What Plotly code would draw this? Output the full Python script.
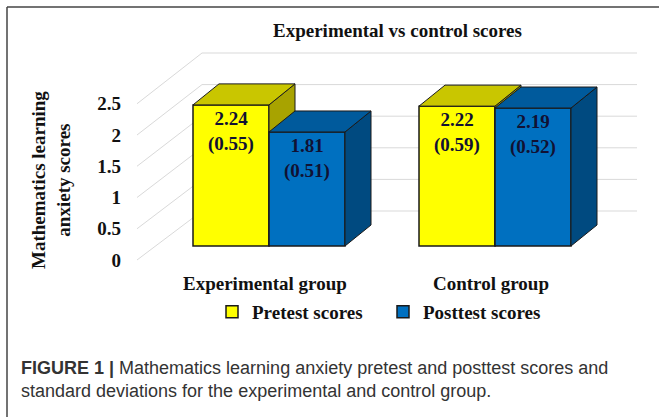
import plotly.graph_objects as go

# ---------------- data ----------------
groups = ["Experimental group", "Control group"]
series_names = ["Pretest scores", "Posttest scores"]
pretest = [2.24, 2.22]
posttest = [1.81, 2.19]
pretest_sd = [0.55, 0.59]
posttest_sd = [0.51, 0.52]
tick_vals = [0, 0.5, 1, 1.5, 2, 2.5]
tick_text = ["0", "0.5", "1", "1.5", "2", "2.5"]

# ---------------- style / layout constants ----------------
W, H = 659, 417
PX_PER_GROUP = 226.0          # pixel distance between group centres
X0_PX = 269.0                 # pixel of first group centre
V0_PX = 246.0                 # pixel of value 0 in bar plane
PX_PER_VAL = 63.0
BAR_W = 76.0 / PX_PER_GROUP   # bar width in group units
DX = 26.0 / PX_PER_GROUP      # 3-D depth offset (x)
DV = 21.0 / PX_PER_VAL        # 3-D depth offset (value)

SERIF = "Liberation Serif"
SANS = "Liberation Sans"
FRONT = ["#FFFF00", "#0070C0"]
TOP = ["#C9C600", "#005A9C"]
SIDE = ["#A8A300", "#004A80"]
EDGE = "#1a1a1a"
GRID = "#d9d9d9"
TXT = "#111111"


def xu(px):
    return (px - X0_PX) / PX_PER_GROUP


def front_edge_m(v):   # left wall front edge, in bar-plane values
    return (V0_PX - 260.0 + 62.5 * v) / PX_PER_VAL


def back_m(v):         # back wall, in bar-plane values
    return (V0_PX - 211.0 + 63.2 * v) / PX_PER_VAL


WALL_FRONT_X = xu(137)
WALL_BACK_X = xu(202)
WALL_END_X = xu(637)

fig = go.Figure()

# gridlines on the left wall and back wall
gx, gy = [], []
for v in tick_vals:
    gx += [WALL_FRONT_X, WALL_BACK_X, WALL_END_X, None]
    gy += [front_edge_m(v), back_m(v), back_m(v), None]
fig.add_trace(go.Scatter(x=gx, y=gy, mode="lines", line=dict(color=GRID, width=1),
                         hoverinfo="skip", showlegend=False, zorder=0))

series = [(pretest, pretest_sd), (posttest, posttest_sd)]
for s, (vals, sds) in enumerate(series):
    z = s + 1
    offs = -BAR_W / 2 if s == 0 else BAR_W / 2
    xs = [g + offs for g in range(len(groups))]
    # side faces and top faces
    for xc, v in zip(xs, vals):
        xl, xr = xc - BAR_W / 2, xc + BAR_W / 2
        fig.add_trace(go.Scatter(
            x=[xr, xr, xr + DX, xr + DX, xr], y=[0, v, v + DV, DV, 0],
            mode="lines", fill="toself", fillcolor=SIDE[s],
            line=dict(color=EDGE, width=1), hoverinfo="skip", showlegend=False, zorder=z))
        fig.add_trace(go.Scatter(
            x=[xl, xr, xr + DX, xl + DX, xl], y=[v, v, v + DV, v + DV, v],
            mode="lines", fill="toself", fillcolor=TOP[s],
            line=dict(color=EDGE, width=1), hoverinfo="skip", showlegend=False, zorder=z))
    fig.add_trace(go.Bar(
        x=xs, y=vals, width=BAR_W, name=f"<b>{series_names[s]}</b>",
        marker=dict(color=FRONT[s], line=dict(color=EDGE, width=1.5)),
        text=[f"<b>{v:.2f}<br>({sd:.2f})</b>" for v, sd in zip(vals, sds)],
        textposition="inside", insidetextanchor="end", textangle=0,
        constraintext="none",
        insidetextfont=dict(family=SERIF, size=19, color="#111133"),
        hoverinfo="skip", zorder=z))

yr = [(V0_PX - H) / PX_PER_VAL, V0_PX / PX_PER_VAL]
fig.update_layout(
    width=W, height=H, margin=dict(l=0, r=0, t=0, b=0),
    paper_bgcolor="white", plot_bgcolor="rgba(0,0,0,0)",
    barmode="overlay",
    xaxis=dict(range=[xu(0), xu(W)], visible=False, fixedrange=True),
    yaxis=dict(range=yr, visible=False, fixedrange=True),
    yaxis2=dict(overlaying="y", anchor="free", position=121 / W,
                range=[(260.0 - H) / 62.5, 260.0 / 62.5],
                tickvals=tick_vals, ticktext=[f"<b>{t}</b>" for t in tick_text],
                showgrid=False, zeroline=False, showline=False, ticks="",
                tickfont=dict(family=SERIF, size=19, color=TXT),
                fixedrange=True),
    showlegend=True,
    legend=dict(orientation="h", x=(252 - 40) / W, y=1 - 312 / H,
                xanchor="left", yanchor="middle", entrywidth=126,
                font=dict(family=SERIF, size=19, color=TXT),
                bgcolor="rgba(0,0,0,0)", itemwidth=30, traceorder="normal"),
)
# dummy trace on yaxis2 so the axis renders
fig.add_trace(go.Scatter(x=[None], y=[None], yaxis="y2", showlegend=False, hoverinfo="skip"))

ann = []
ann.append(dict(text="<b>Experimental vs control scores</b>", x=397 / W, y=1 - 31 / H,
                xref="paper", yref="paper", showarrow=False, xanchor="center", yanchor="middle",
                font=dict(family=SERIF, size=19, color=TXT)))
ann.append(dict(text="<b>Mathematics learning<br>anxiety scores</b>", x=51 / W, y=1 - 180 / H,
                xref="paper", yref="paper", showarrow=False, textangle=-90,
                xanchor="center", yanchor="middle",
                font=dict(family=SERIF, size=19, color=TXT)))
for g, name in enumerate(groups):
    ann.append(dict(text=f"<b>{name}</b>", x=g, y=(V0_PX - 283) / PX_PER_VAL,
                    xref="x", yref="y", showarrow=False, xanchor="center", yanchor="middle",
                    xshift=-4,
                    font=dict(family=SERIF, size=19, color=TXT)))
ann.append(dict(text="<b>FIGURE 1 |</b> Mathematics learning anxiety pretest and posttest scores and<br>"
                     "standard deviations for the experimental and control group.",
                x=19 / W, y=1 - 379 / H, xref="paper", yref="paper", showarrow=False,
                xanchor="left", yanchor="middle", align="left",
                font=dict(family=SANS, size=18, color="#333333")))
fig.update_layout(annotations=ann)

fig.add_shape(type="line", xref="paper", yref="paper", x0=7 / W, x1=1, y0=1 - 7 / H, y1=1 - 7 / H,
              line=dict(color="#444444", width=1.5))
fig.add_shape(type="line", xref="paper", yref="paper", x0=7 / W, x1=7 / W, y0=0, y1=1 - 7 / H,
              line=dict(color="#444444", width=1.5))

fig.write_html("out.html", config={"displayModeBar": False},
               post_script="document.body.style.margin='0';")
